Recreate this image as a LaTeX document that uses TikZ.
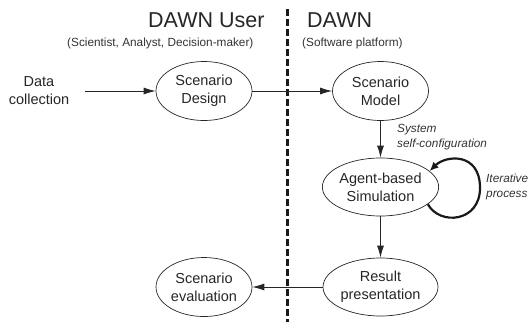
\documentclass[tikz,border=0pt]{standalone}
\usepackage{fontspec}
\setmainfont{Liberation Sans}
\usetikzlibrary{shapes.geometric,arrows.meta}
\begin{document}
\begin{tikzpicture}[x=1pt,y=-1pt,
  bub/.style={draw=black!85,line width=0.7pt,ellipse,inner sep=0pt,
    minimum width=96pt,minimum height=59pt,align=center,
    font=\fontsize{14.5}{18}\selectfont,text=black!85},
  wide/.style={minimum width=115pt,minimum height=58pt},
  conn/.style={draw=black!85,line width=0.8pt,-{Latex[length=12pt,width=7pt]}},
  loopline/.style={draw=black!90,line width=2.2pt,-{Latex[length=9pt,width=8pt]}},
  title/.style={anchor=base west,inner sep=0pt,font=\fontsize{21.5}{24}\selectfont,text=black!85},
  sub/.style={anchor=base west,inner sep=0pt,font=\fontsize{11.8}{14}\selectfont,text=black!80},
  lab/.style={anchor=west,inner sep=0pt,align=left,font=\fontsize{11.8}{15}\selectfont\itshape,text=black!80},
  divider/.style={draw=black!90,line width=3pt,dash pattern=on 6.5pt off 3.5pt}]
\useasboundingbox (0,0) rectangle (529,322);
\coordinate (dtop) at (287,9);
\coordinate (dbot) at (287,322);
\path[divider] (dtop) -- (dbot);
\node[title] (tuser) at (148,27.5) {DAWN User};
\node[title] (tdawn) at (307,27.5) {DAWN};
\node[sub] (suser) at (67,46) {(Scientist, Analyst, Decision-maker)};
\node[sub] (sdawn) at (302,46) {(Software platform)};
\node[align=center,inner xsep=16pt,inner ysep=0pt,font=\fontsize{14.5}{18}\selectfont,text=black!85] (data) at (39,91) {Data\\collection};
\node[bub] (design) at (204,91) {Scenario\\Design};
\node[bub] (model) at (380.5,91) {Scenario\\Model};
\node[bub,wide] (agent) at (380.5,187) {Agent-based\\Simulation};
\node[bub,wide] (result) at (380.5,287) {Result\\presentation};
\node[bub] (eval) at (204,287) {Scenario\\evaluation};
\draw[conn] (data.east) -- (design.west);
\draw[conn] (design.east) -- (model.west);
\draw[conn] (model.south) -- (agent.north);
\draw[conn] (agent.south) -- (result.north);
\draw[conn] (result.west) -- (eval.east);
\draw[loopline] (agent.-20) .. controls (440,226) and (480,222) .. (480,188) .. controls (480,152) and (446,155) .. (agent.18);
\node[lab] (lsys) at (397,137.5) {System\\self-configuration};
\node[lab] (lit) at (486,187) {Iterative\\process};
\end{tikzpicture}
\end{document}
